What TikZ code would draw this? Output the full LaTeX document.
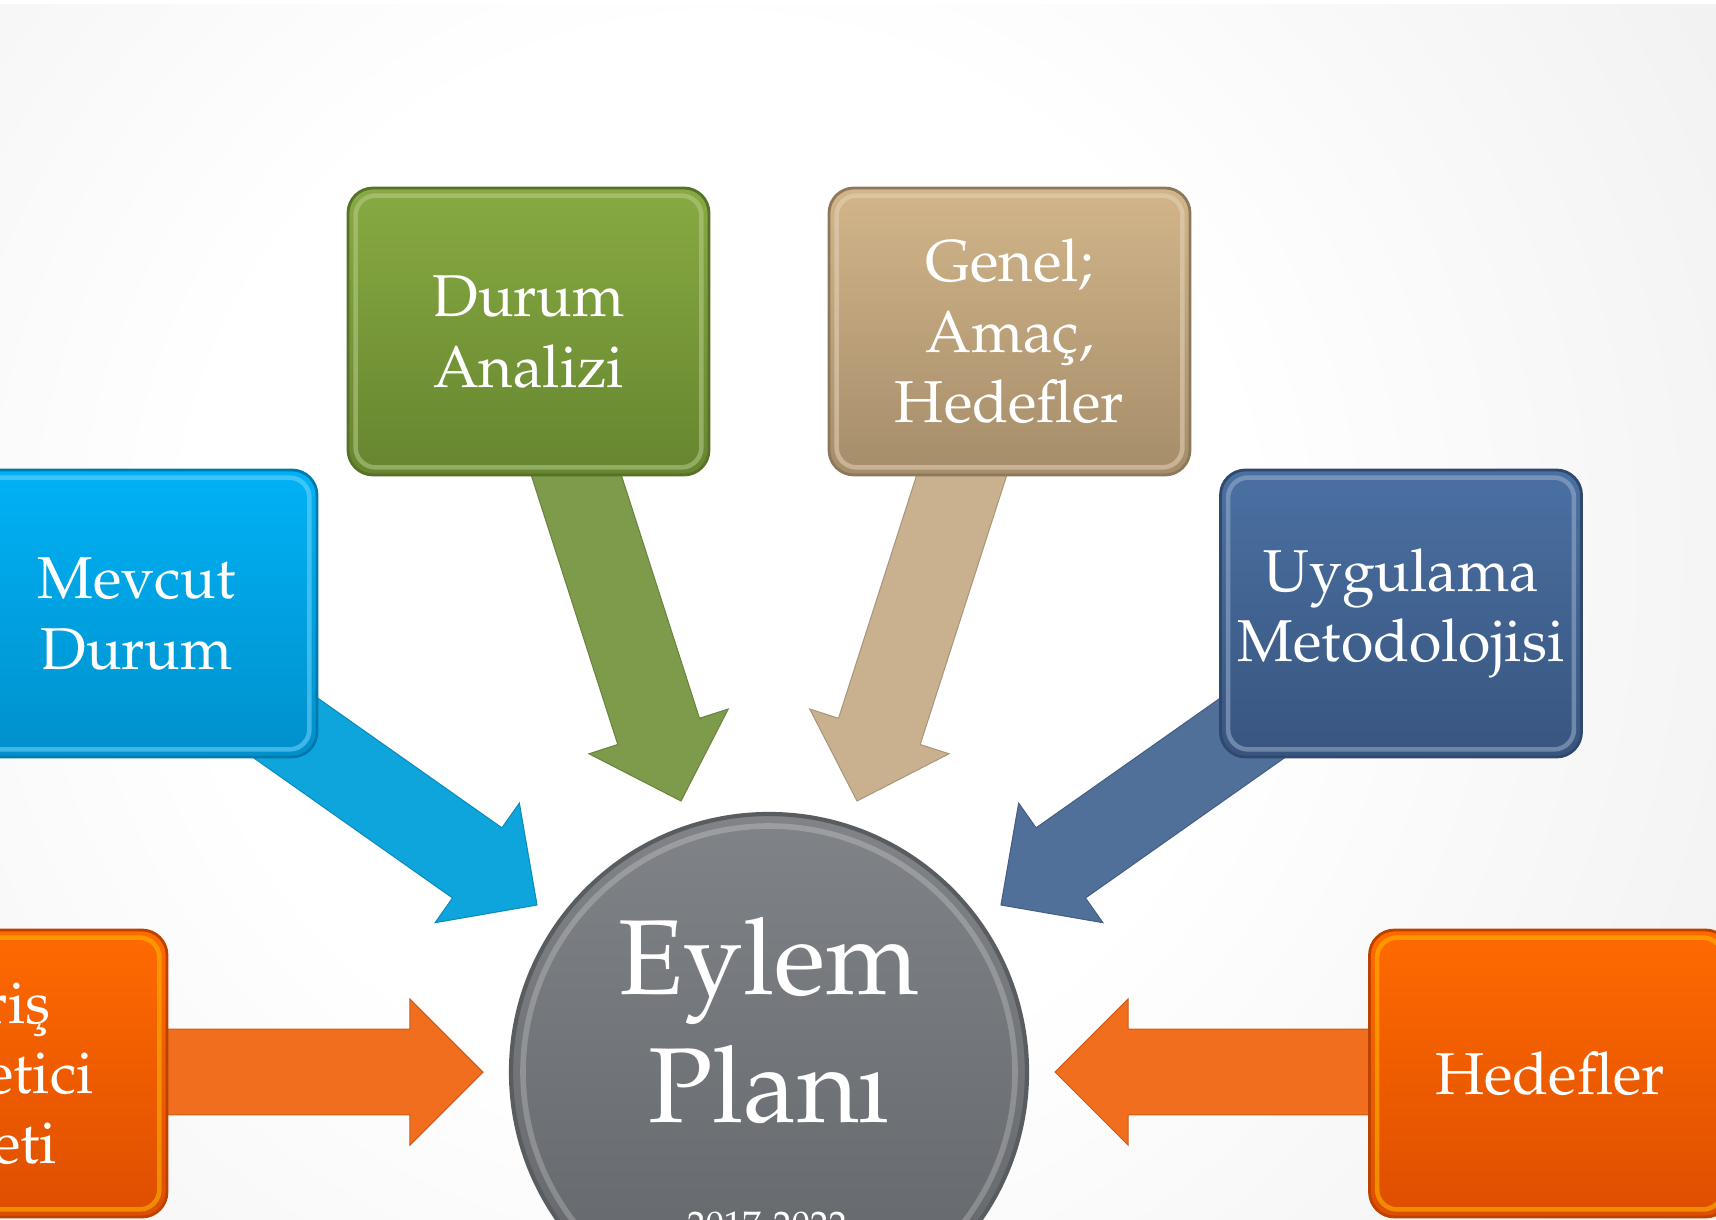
\documentclass[tikz,border=0pt]{standalone}
\usepackage[T1]{fontenc}
\usepackage{mathpazo}
\usetikzlibrary{calc}

\definecolor{bgA}{HTML}{EAEAEA}
\definecolor{bgB}{HTML}{CDCDCD}
\definecolor{gTop}{HTML}{88AA42}
\definecolor{gBot}{HTML}{66852F}
\definecolor{gArr}{HTML}{7D9B4A}
\definecolor{tTop}{HTML}{D2B58A}
\definecolor{tBot}{HTML}{A58D6A}
\definecolor{tArr}{HTML}{C9B190}
\definecolor{cTop}{HTML}{00B2F5}
\definecolor{cBot}{HTML}{0090CC}
\definecolor{cArr}{HTML}{0EA5DC}
\definecolor{bTop}{HTML}{4A70A2}
\definecolor{bBot}{HTML}{38557F}
\definecolor{bArr}{HTML}{50709A}
\definecolor{oTop}{HTML}{FF6A00}
\definecolor{oBot}{HTML}{DE4E00}
\definecolor{oArr}{HTML}{F06E1E}
\definecolor{pTop}{HTML}{808387}
\definecolor{pBot}{HTML}{616468}
\definecolor{pEdge}{HTML}{5A5D60}

\pgfdeclareradialshading{bgshade}{\pgfpoint{0bp}{0bp}}{color(0bp)=(white); color(11bp)=(white); color(31bp)=(bgA); color(50bp)=(bgB)}

\newcommand{\shaftw}{12.2pt}
\newcommand{\headw}{20.8pt}
\newcommand{\headl}{20.8pt}
% #1 tail coordinate, #2 tip coordinate, #3 colour
\newcommand{\drawfatarrow}[3]{%
  \coordinate (#2h) at ($(#2)!\headl!(#1)$);
  \fill[#3, draw=#3!85!black, line width=0.3pt, line join=miter]
    ($(#1)!\shaftw!90:(#2)$) -- ($(#2h)!\shaftw!90:(#2)$) --
    ($(#2h)!\headw!90:(#2)$) -- (#2) --
    ($(#2h)!\headw!-90:(#2)$) -- ($(#2h)!\shaftw!-90:(#2)$) --
    ($(#1)!\shaftw!-90:(#2)$) -- cycle;
}

\begin{document}
\begin{tikzpicture}[x=0.1mm, y=-0.1mm,
  box/.style={rounded corners=2.5mm, minimum width=36.1mm, minimum height=28.7mm,
    text=white, align=center, inner sep=0pt, line width=0.8pt,
    font=\fontsize{16.8}{20}\selectfont},
  bevel/.style={rounded corners=2mm, line width=1.3pt, draw opacity=0.55}]

\useasboundingbox (0,0) rectangle (1716,1220);
\begin{scope}
\clip (0,0) rectangle (1716,1220);
\shade[shading=bgshade] (-480,-640) rectangle (1920,1760);
\fill[white] (0,0) rectangle (1716,4);

% anchor points of connectors
\coordinate (gtail) at (565,440);
\coordinate (gtip)  at (681,801);
\coordinate (ttail) at (973,440);
\coordinate (ttip)  at (857,801);
\coordinate (ctail) at (219,681);
\coordinate (ctip)  at (537,905);
\coordinate (btail) at (1319,681);
\coordinate (btip)  at (1001,905);
\coordinate (ltail) at (100,1072);
\coordinate (ltip)  at (483,1072);
\coordinate (rtail) at (1438,1072);
\coordinate (rtip)  at (1055,1072);

% connectors (under the boxes)
\drawfatarrow{gtail}{gtip}{gArr}
\drawfatarrow{ttail}{ttip}{tArr}
\drawfatarrow{ctail}{ctip}{cArr}
\drawfatarrow{btail}{btip}{bArr}
\drawfatarrow{ltail}{ltip}{oArr}
\drawfatarrow{rtail}{rtip}{oArr}

% boxes
\node[box, top color=gTop, bottom color=gBot, draw=gBot!85!black] (durum) at (528.5,331.5) {Durum\\Analizi};
\draw[bevel, draw=gTop!60!white] ($(durum.south west)+(9,-9)$) rectangle ($(durum.north east)+(-9,9)$);

\node[box, top color=tTop, bottom color=tBot, draw=tBot!85!black] (genel) at (1009.5,331.5) {Genel;\\Ama\c{c},\\Hedefler};
\draw[bevel, draw=tTop!60!white] ($(genel.south west)+(9,-9)$) rectangle ($(genel.north east)+(-9,9)$);

\node[box, top color=cTop, bottom color=cBot, draw=cBot!85!black] (mevcut) at (136.5,613.5) {Mevcut\\Durum};
\draw[bevel, draw=cTop!55!white] ($(mevcut.south west)+(9,-9)$) rectangle ($(mevcut.north east)+(-9,9)$);

\node[box, top color=bTop, bottom color=bBot, draw=bBot!85!black] (uygulama) at (1401,613.5) {Uygulama\\Metodolojisi};
\draw[bevel, draw=bTop!55!white] ($(uygulama.south west)+(9,-9)$) rectangle ($(uygulama.north east)+(-9,9)$);

\node[box, top color=oTop, bottom color=oBot, draw=oBot!85!black] (giris) at (-13.5,1073.5) {Giri\c{s}\\Y\"onetici\\\"Ozeti};
\draw[bevel, draw=oTop!45!yellow] ($(giris.south west)+(9,-9)$) rectangle ($(giris.north east)+(-9,9)$);

\node[box, top color=oTop, bottom color=oBot, draw=oBot!85!black] (hedef) at (1550,1073.5) {Hedefler};
\draw[bevel, draw=oTop!45!yellow] ($(hedef.south west)+(9,-9)$) rectangle ($(hedef.north east)+(-9,9)$);

% centre circle
\node[circle, minimum size=51.6mm, inner sep=0pt, top color=pTop, bottom color=pBot,
      draw=pEdge, line width=1.2pt] (plan) at (769,1072) {};
\draw[white, draw opacity=0.22, line width=1.6pt] (plan.center) circle (24.6mm);
\node[text=white, align=center, inner sep=0pt, font=\fontsize{30.3}{36.4}\selectfont] (title) at (769,1020) {Eylem\\Plan\i};
\node[text=white, anchor=base, inner sep=0pt, font=\fontsize{10.5}{12}\selectfont] (years) at (767,1237) {2017-2022};
\end{scope}
\end{tikzpicture}
\end{document}
